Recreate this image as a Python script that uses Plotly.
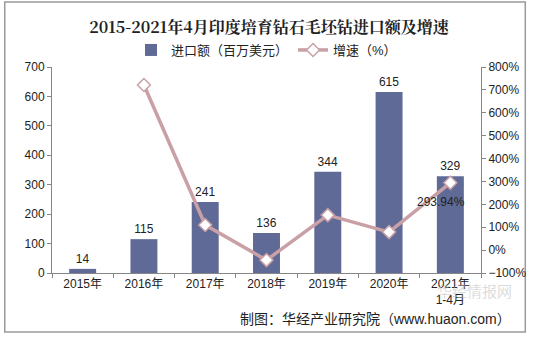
import plotly.graph_objects as go

categories = ["2015年", "2016年", "2017年", "2018年", "2019年", "2020年", "2021年<br>1-4月"]
import_values = [14, 115, 241, 136, 344, 615, 329]
growth_rates = [None, 721.4, 109.6, -43.6, 152.9, 78.8, 293.94]
growth_label = "293.94%"

FONT = "Liberation Sans, Arial, Noto Sans CJK SC"
BAR_COLOR = "#5f6a96"
LINE_COLOR = "#c8a0a6"
AXIS_COLOR = "#868686"

fig = go.Figure()
fig.add_trace(go.Bar(
    x=categories, y=import_values, name="进口额（百万美元）",
    marker=dict(color=BAR_COLOR, line=dict(width=0)),
    text=[str(v) for v in import_values], textposition="outside",
    textfont=dict(size=12, color="#222222", family=FONT),
    cliponaxis=False,
))
fig.add_trace(go.Scatter(
    x=categories, y=growth_rates, name="增速（%）", yaxis="y2",
    mode="lines+markers",
    line=dict(color=LINE_COLOR, width=3.5),
    marker=dict(symbol="diamond", size=10, color="white", line=dict(color=LINE_COLOR, width=1.5)),
    connectgaps=False, cliponaxis=False,
))

# plot area geometry (pixels)
L, R, T, B = 52, 50, 67, 65
W, H = 538 - L - R, 338 - T - B

def px(x):
    return (x - L) / W

def py(y):
    return (338 - B - y) / H

fig.update_layout(
    width=538, height=338,
    margin=dict(l=L, r=R, t=T, b=B),
    paper_bgcolor="white", plot_bgcolor="white",
    font=dict(family=FONT, size=12, color="#222222"),
    title=dict(text="<b>2015-2021年4月印度培育钻石毛坯钻进口额及增速</b>",
               x=0.5, xanchor="center", y=1 - 27 / 338, yanchor="middle",
               font=dict(size=16, family="Noto Serif CJK SC, Noto Sans CJK SC", color="#222222")),
    bargap=0.56,
    showlegend=True,
    legend=dict(orientation="h", x=0.5, xanchor="center", y=py(50), yanchor="middle",
                font=dict(size=13, color="#222222"), bgcolor="rgba(0,0,0,0)",
                itemwidth=30, tracegroupgap=0),
    xaxis=dict(showline=True, linecolor=AXIS_COLOR, linewidth=1, ticks="outside",
               tickson="boundaries", ticklen=4, tickcolor=AXIS_COLOR,
               showgrid=False, tickfont=dict(size=12, color="#222222")),
    yaxis=dict(range=[0, 700], dtick=100, showline=True, linecolor=AXIS_COLOR,
               ticks="outside", ticklen=4, tickcolor=AXIS_COLOR, showgrid=False,
               zeroline=False, tickfont=dict(size=12, color="#222222")),
    yaxis2=dict(range=[-100, 800], dtick=100, overlaying="y", side="right",
                ticksuffix="%", showline=True, linecolor=AXIS_COLOR,
                ticks="outside", ticklen=4, tickcolor=AXIS_COLOR, showgrid=False,
                zeroline=False, tickfont=dict(size=12, color="#222222")),
    shapes=[dict(type="rect", xref="paper", yref="paper",
                 x0=px(4), x1=px(533), y0=py(332), y1=py(2),
                 line=dict(color="#9a9a9a", width=1.5), fillcolor="rgba(0,0,0,0)", layer="below")],
    annotations=[
        dict(text=growth_label, x=categories[-1], y=growth_rates[-1], xref="x", yref="y2",
             xshift=-9, yshift=-19, showarrow=False,
             font=dict(size=12, color="#222222")),
        dict(text="华经情报网", xref="paper", yref="paper", x=px(522), y=py(291),
             xanchor="right", yanchor="middle",
             showarrow=False, font=dict(size=15, color="rgba(185,185,185,0.5)")),
        dict(text="制图：华经产业研究院（www.huaon.com）", xref="paper", yref="paper",
             x=px(521), y=py(319), xanchor="right", yanchor="middle",
             showarrow=False, font=dict(size=14, color="#222222")),
    ],
)

fig.write_html("out.html")
